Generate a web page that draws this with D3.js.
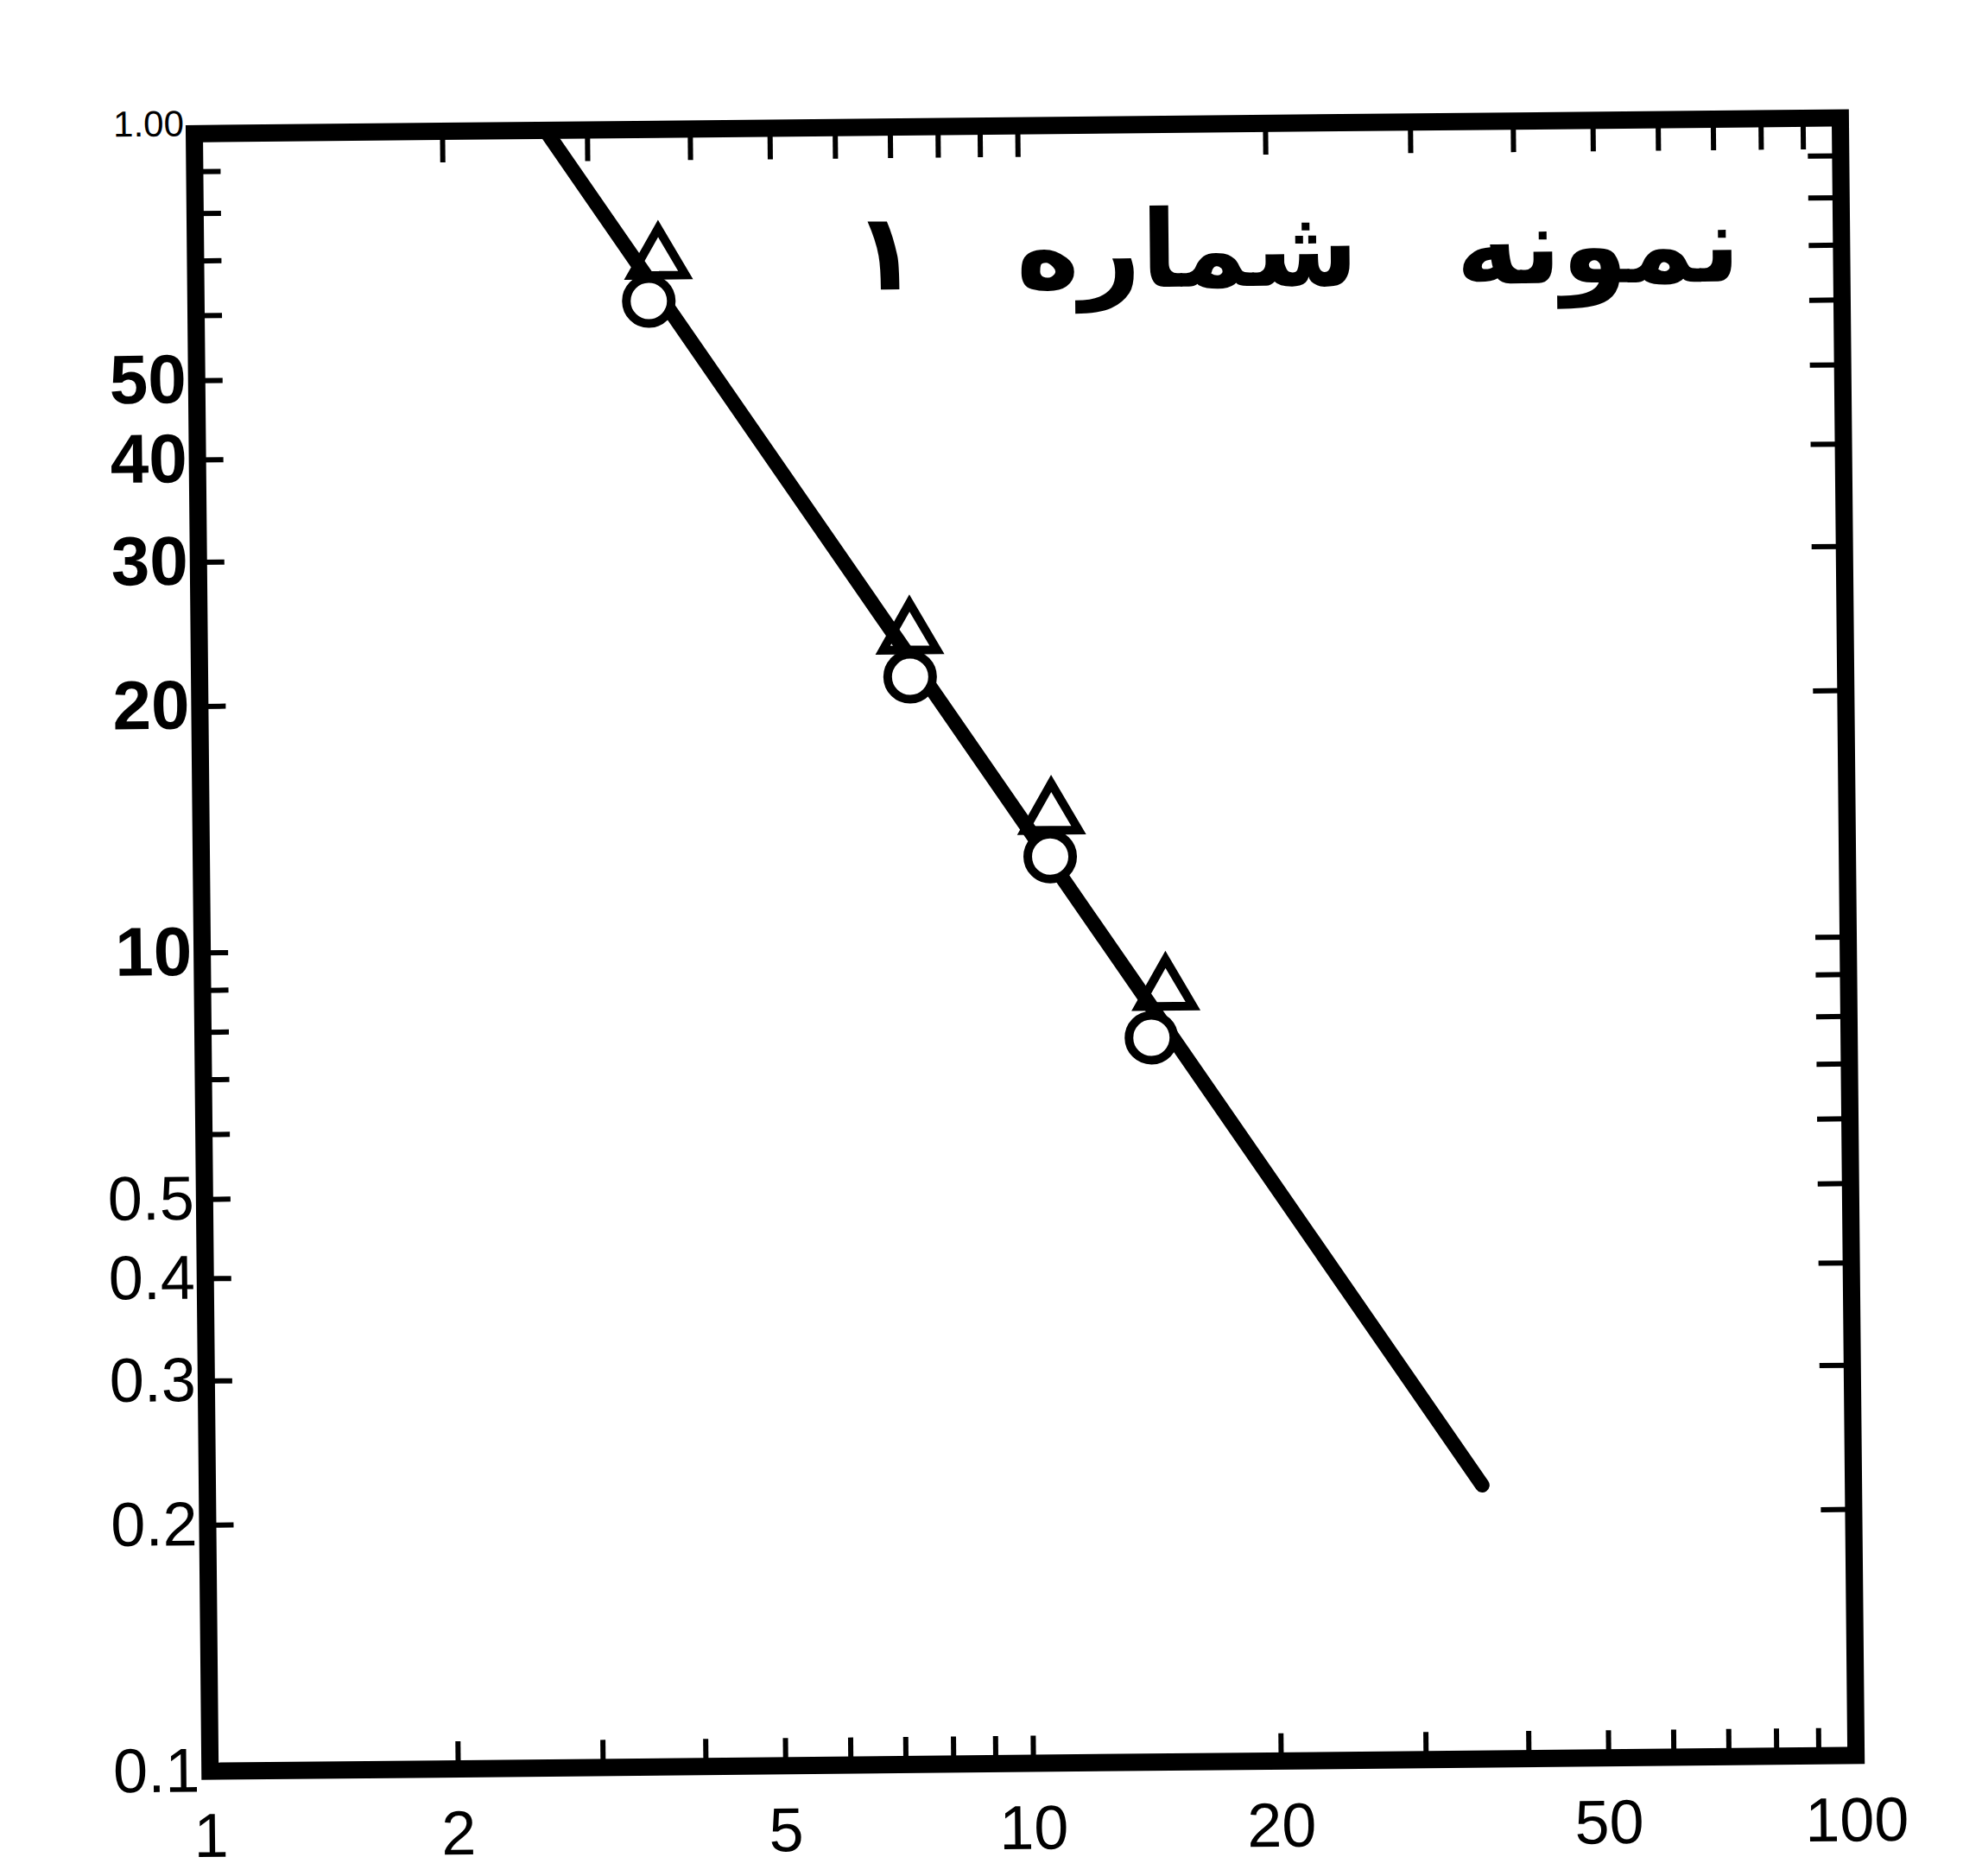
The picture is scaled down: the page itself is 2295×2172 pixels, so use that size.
<!DOCTYPE html>
<html>
<head>
<meta charset="utf-8">
<script src="https://cdn.jsdelivr.net/npm/d3@7"></script>
<style>
    body { margin: 0; background: #ffffff; }
    svg { display: block; }
</style>
</head>
<body>
<svg id="grafico"></svg>
<script>
// valores (escala log-log)
const xTickValues = [1, 2, 5, 10, 20, 50, 100];
const xTickLabels = ['1', '2', '5', '10', '20', '50', '100'];
const yTickValues = [1, 2, 3, 4, 5, 10, 20, 30, 40, 50, 100];
const yTickLabels = ['0.1', '0.2', '0.3', '0.4', '0.5', '10', '20', '30', '40', '50', '1.00'];
// etiquetas en negrita
const yNegrita = [10, 20, 30, 40, 50];

// linea ajustada
const lineaX = [2.67, 35.4];
const lineaY = [100, 2.16];

// circulos
const circX = [3.55, 7.30, 10.75, 14.2];
const circY = [61.7, 21.3, 12.8, 7.67];

// triangulos
const triX = [3.65, 7.30, 10.8, 14.8];
const triY = [69.3, 24.0, 14.4, 8.75];

const titulo = 'نمونه شماره ۱';

const ancho = 2295;
const alto = 2172;
const izq = 234, der = 2140, arriba = 146, abajo = 2042;
const ancho_g = der - izq;
const alto_g = abajo - arriba;

const svg = d3.select('#grafico').attr('width', ancho).attr('height', alto);

// el escaneo esta un poco girado
const g = svg.append('g')
    .attr('transform', 'rotate(-0.55,' + (ancho / 2) + ',' + (alto / 2) + ') translate(' + izq + ',' + arriba + ')');

let escalaX = d3.scaleLog().domain([1, 100]).range([0, ancho_g]);
let escalaY = d3.scaleLog().domain([1, 100]).range([alto_g, 0]);

const menores = escalaX.ticks();

// marcas hacia adentro en los cuatro lados
function marcas (eje, largo) {
    return eje.tickValues(menores).tickSize(-largo).tickFormat('');
}

g.append('g').attr('class', 'marcas')
    .attr('transform', 'translate(0,' + alto_g + ')')
    .call(marcas(d3.axisBottom(escalaX), 32));
g.append('g').attr('class', 'marcas')
    .call(marcas(d3.axisTop(escalaX), 36));
g.append('g').attr('class', 'marcas')
    .call(marcas(d3.axisLeft(escalaY), 30));
g.append('g').attr('class', 'marcas')
    .attr('transform', 'translate(' + ancho_g + ',0)')
    .call(marcas(d3.axisRight(escalaY), 38));

g.selectAll('.marcas .domain').remove();
g.selectAll('.marcas line')
    .attr('stroke', '#000')
    .attr('stroke-width', 6);

// etiquetas
let ejeXtexto = d3.axisBottom(escalaX)
    .tickValues(xTickValues)
    .tickSize(0)
    .tickPadding(48)
    .tickFormat(function (d, i) { return xTickLabels[i]; });
g.append('g')
    .attr('id', 'ejeXtexto')
    .attr('transform', 'translate(0,' + alto_g + ')')
    .call(ejeXtexto);

let ejeYtexto = d3.axisLeft(escalaY)
    .tickValues(yTickValues)
    .tickSize(0)
    .tickPadding(12)
    .tickFormat(function (d, i) { return yTickLabels[i]; });
g.append('g')
    .attr('id', 'ejeYtexto')
    .call(ejeYtexto);

g.selectAll('#ejeXtexto .domain, #ejeYtexto .domain').remove();
d3.select('#ejeXtexto').selectAll('text')
    .style('font-family', 'Liberation Sans')
    .style('font-size', '72px')
    .attr('fill', '#000');
d3.select('#ejeYtexto').selectAll('text')
    .style('font-family', 'Liberation Sans')
    .style('font-size', '72px')
    .attr('fill', '#000');
d3.select('#ejeYtexto').selectAll('.tick')
    .filter(function (d) { return yNegrita.indexOf(d) >= 0; })
    .select('text')
    .style('font-weight', 'bold')
    .style('font-size', '80px');
d3.select('#ejeYtexto').selectAll('.tick')
    .filter(function (d) { return d === 100; })
    .select('text')
    .style('font-size', '42px')
    .attr('dy', '0.05em');

// marco
g.append('rect')
    .attr('x', 0)
    .attr('y', 0)
    .attr('width', ancho_g)
    .attr('height', alto_g)
    .attr('fill', 'none')
    .attr('stroke', '#000')
    .attr('stroke-width', 20);

// triangulos (quedan debajo de la linea)
g.selectAll('path.tri')
    .data(triY).enter()
    .append('path')
    .attr('class', 'tri')
    .attr('d', d3.symbol().type(d3.symbolTriangle).size(1700))
    .attr('transform', function (d, i) {
        return 'translate(' + escalaX(triX[i]) + ',' + escalaY(d) + ')';
    })
    .attr('fill', '#fff')
    .attr('stroke', '#000')
    .attr('stroke-width', 10);

// linea
let graphLine = d3.line()
    .x(function (d, i) { return escalaX(lineaX[i]); })
    .y(function (d) { return escalaY(d); });

g.append('path')
    .attr('d', graphLine(lineaY))
    .attr('fill', 'none')
    .attr('stroke', '#000')
    .attr('stroke-width', 17)
    .attr('stroke-linecap', 'round');

// circulos
g.selectAll('circle.points')
    .data(circY).enter()
    .append('circle')
    .attr('class', 'points')
    .attr('r', 26)
    .attr('cx', function (d, i) { return escalaX(circX[i]); })
    .attr('cy', function (d) { return escalaY(d); })
    .attr('fill', '#fff')
    .attr('stroke', '#000')
    .attr('stroke-width', 10);

// titulo en persa
g.append('text')
    .attr('x', 1275)
    .attr('y', 188)
    .attr('text-anchor', 'middle')
    .attr('direction', 'rtl')
    .style('font-family', 'DejaVu Sans')
    .style('font-weight', 'bold')
    .style('font-size', '124px')
    .style('word-spacing', '70px')
    .text(titulo);
</script>
</body>
</html>
